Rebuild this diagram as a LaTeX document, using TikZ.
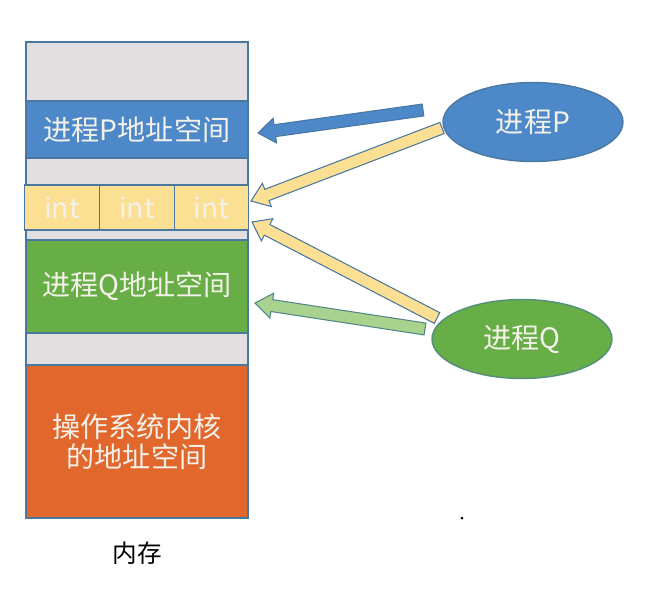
\documentclass[tikz,border=0pt]{standalone}
\usepackage{fontspec}
\newfontfamily\cjk{Noto Sans CJK SC}
\usetikzlibrary{calc,shapes.geometric}

\definecolor{memgray}{HTML}{E1DFDF}
\definecolor{memline}{HTML}{4A78A0}
\definecolor{pblue}{HTML}{4D88C9}
\definecolor{qgreen}{HTML}{66AE45}
\definecolor{osorange}{HTML}{E1672C}
\definecolor{intyellow}{HTML}{FBDF92}
\definecolor{lightgreen}{HTML}{A9D28E}
\definecolor{txtwhite}{HTML}{F4F1EA}

% fat arrow from tail #2 to tip #3
\newcommand{\blockarrow}[3]{%
    \coordinate (#2-m) at ($(#3)!0.34cm!(#2)$);
    \path[#1] ($(#2)!0.12cm!90:(#3)$) -- ($(#2-m)!0.12cm!90:(#3)$)
        -- ($(#2-m)!0.25cm!90:(#3)$) -- (#3)
        -- ($(#2-m)!0.25cm!-90:(#3)$) -- ($(#2-m)!0.12cm!-90:(#3)$)
        -- ($(#2)!0.12cm!-90:(#3)$) -- cycle;
}

\begin{document}
\begin{tikzpicture}[x=0.02cm,y=-0.02cm]

    \tikzstyle{block}=[draw=memline, line width=0.8pt, rectangle, inner sep=0pt, outer sep=0pt,
        minimum width=4.44cm, font=\cjk\fontsize{16}{19}\selectfont, text=txtwhite, align=center]
    \tikzstyle{intcell}=[block, fill=intyellow, minimum width=1.49cm, minimum height=0.9cm]
    \tikzstyle{proc}=[ellipse, inner sep=0pt, line width=0.8pt, minimum width=3.6cm,
        minimum height=1.58cm, font=\cjk\fontsize{16}{19}\selectfont, text=txtwhite]

    \useasboundingbox (0,0) rectangle (657,603);

    % memory column
    \node[block, fill=memgray, minimum height=1.18cm] (Top) at (137,71.5) {};
    \node[block, fill=pblue, minimum height=1.14cm] (Pspace) at (137,129.5) {进程P地址空间};
    \node[block, fill=memgray, minimum height=0.54cm] (Gap1) at (137,171.5) {};
    \node[intcell] (Int1) at (62,207.5) {int};
    \node[intcell] (Int2) at (137,207.5) {int};
    \node[intcell] (Int3) at (211.5,207.5) {int};
    \node[block, fill=memgray, minimum height=0.2cm] (Gap2) at (137,235) {};
    \node[block, fill=qgreen, minimum height=1.86cm] (Qspace) at (137,286.5) {进程Q地址空间};
    \node[block, fill=memgray, minimum height=0.64cm] (Gap3) at (137,349) {};
    \node[block, fill=osorange, minimum height=3.06cm] (Kernel) at (137,441.5)
        {操作系统内核\\[-2pt]的地址空间};
    \node[font=\cjk\fontsize{14}{17}\selectfont] (Mem) at (137,553) {内存};

    % processes
    \node[proc, fill=pblue, draw=memline] (ProcP) at (533,122) {进程P};
    \node[proc, fill=qgreen, draw=memline!60!qgreen] (ProcQ) at (522,339) {进程Q};

    % arrow ends
    \coordinate (pa) at (423,110);
    \coordinate (pb) at (442,128);
    \coordinate (qa) at (437,318);
    \coordinate (qb) at (425,329);
    \coordinate (pa-tip) at (258,133);
    \coordinate (pb-tip) at (251,201);
    \coordinate (qa-tip) at (252,222);
    \coordinate (qb-tip) at (255,303);

    \blockarrow{fill=pblue, draw=memline, line width=0.6pt}{pa}{pa-tip}
    \blockarrow{fill=intyellow, draw=memline, line width=0.6pt}{pb}{pb-tip}
    \blockarrow{fill=intyellow, draw=memline, line width=0.6pt}{qa}{qa-tip}
    \blockarrow{fill=lightgreen, draw=memline!70!qgreen, line width=0.6pt}{qb}{qb-tip}

    \fill (462,518) circle (1.5);
\end{tikzpicture}
\end{document}
